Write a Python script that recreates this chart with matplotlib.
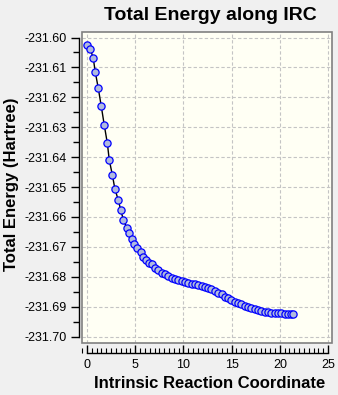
import matplotlib
matplotlib.use('Agg')
import matplotlib.pyplot as plt
from matplotlib.patches import Rectangle
from matplotlib.ticker import MultipleLocator, FormatStrFormatter

# IRC 데이터
irc_x = [0.03, 0.34, 0.65, 0.86, 1.17, 1.48, 1.79, 2.11, 2.31, 2.63,
         2.90, 3.25, 3.50, 3.77, 4.10, 4.39, 4.65, 4.88, 5.22, 5.57,
         5.84, 6.12, 6.43, 6.71, 7.05, 7.40, 7.74, 8.09, 8.43, 8.78,
         9.12, 9.47, 9.81, 10.15, 10.50, 10.84, 11.19, 11.53, 11.88, 12.22,
         12.57, 12.91, 13.26, 13.60, 13.95, 14.29, 14.64, 14.98, 15.33, 15.67,
         16.02, 16.36, 16.71, 17.05, 17.40, 17.74, 18.09, 18.43, 18.78, 19.12,
         19.47, 19.81, 20.16, 20.50, 20.85, 21.19, 21.40]
energy = [-231.6025, -231.6038, -231.6070, -231.6116, -231.6170, -231.6230, -231.6293, -231.6354, -231.6410, -231.6460,
          -231.6508, -231.6544, -231.6578, -231.6609, -231.6636, -231.6655, -231.6673, -231.6691, -231.6705, -231.6718,
          -231.6733, -231.6744, -231.6753, -231.6759, -231.6770, -231.6779, -231.6786, -231.6792, -231.6797, -231.6803,
          -231.6807, -231.6811, -231.6815, -231.6818, -231.6822, -231.6823, -231.6825, -231.6828, -231.6830, -231.6833,
          -231.6838, -231.6842, -231.6848, -231.6853, -231.6859, -231.6867, -231.6872, -231.6877, -231.6883, -231.6889,
          -231.6892, -231.6897, -231.6900, -231.6903, -231.6907, -231.6911, -231.6914, -231.6917, -231.6918, -231.6921,
          -231.6922, -231.6922, -231.6923, -231.6925, -231.6926, -231.6926, -231.6926]

title = 'Total Energy along IRC'
xlabel = 'Intrinsic Reaction Coordinate'
ylabel = 'Total Energy (Hartree)'

plt.rcParams['font.family'] = ['Liberation Sans', 'DejaVu Sans']
plt.rcParams['axes.unicode_minus'] = False

W, H = 338, 395
fig = plt.figure(figsize=(W / 100, H / 100), dpi=100, facecolor='#f0f0f0')
ax = fig.add_axes([82 / W, 1 - 343 / H, 250 / W, 311 / H])
ax.set_facecolor('#fffff4')

ax.plot(irc_x, energy, color='black', lw=1.0, marker='o', ms=5.2,
        mfc='#b0bade', mec='#0000ff', mew=0.9, zorder=3)

ax.set_xlim(-0.52, 25.41)
ax.set_ylim(-231.70217, -231.59816)

# 축 눈금
ax.xaxis.set_major_locator(MultipleLocator(5))
ax.xaxis.set_minor_locator(MultipleLocator(0.5))
ax.yaxis.set_major_locator(MultipleLocator(0.01))
ax.yaxis.set_minor_locator(MultipleLocator(0.005))
ax.yaxis.set_major_formatter(FormatStrFormatter('%.2f'))

ax.grid(True, which='major', ls=(0, (3, 2)), color='#c4c4c4', lw=0.8, zorder=0)

for s in ['top', 'right']:
    ax.spines[s].set_visible(False)
ax.spines['left'].set_position(('outward', 2.2))
ax.spines['left'].set_bounds(-231.70, -231.60)
ax.spines['bottom'].set_position(('outward', 7.2))
ax.spines['bottom'].set_bounds(0, 25)
for s in ['left', 'bottom']:
    ax.spines[s].set_linewidth(1.0)
    ax.spines[s].set_color('black')

ax.tick_params(axis='y', which='major', direction='out', length=5.8, width=1.0, pad=3, labelsize=9)
ax.tick_params(axis='y', which='minor', direction='out', length=4.3, width=1.0)
ax.tick_params(axis='x', which='major', direction='in', length=5.8, width=1.0, pad=4.3, labelsize=9)
ax.tick_params(axis='x', which='minor', direction='in', length=3.6, width=0.8)

# 플롯 영역 테두리
ax.add_patch(Rectangle((0, 0), 1, 1, transform=ax.transAxes, fill=False,
                       edgecolor='#808080', lw=1.2, clip_on=False, zorder=5))

fig.text(210 / W, 1 - 15 / H, title, ha='center', va='center', fontsize=14, fontweight='bold')
fig.text(210 / W, 1 - 383 / H, xlabel, ha='center', va='center', fontsize=12, fontweight='bold')
fig.text(12 / W, 1 - 184 / H, ylabel, ha='center', va='center', rotation=90, fontsize=12, fontweight='bold')

fig.savefig('out.png', dpi=100, facecolor=fig.get_facecolor())
plt.close()
